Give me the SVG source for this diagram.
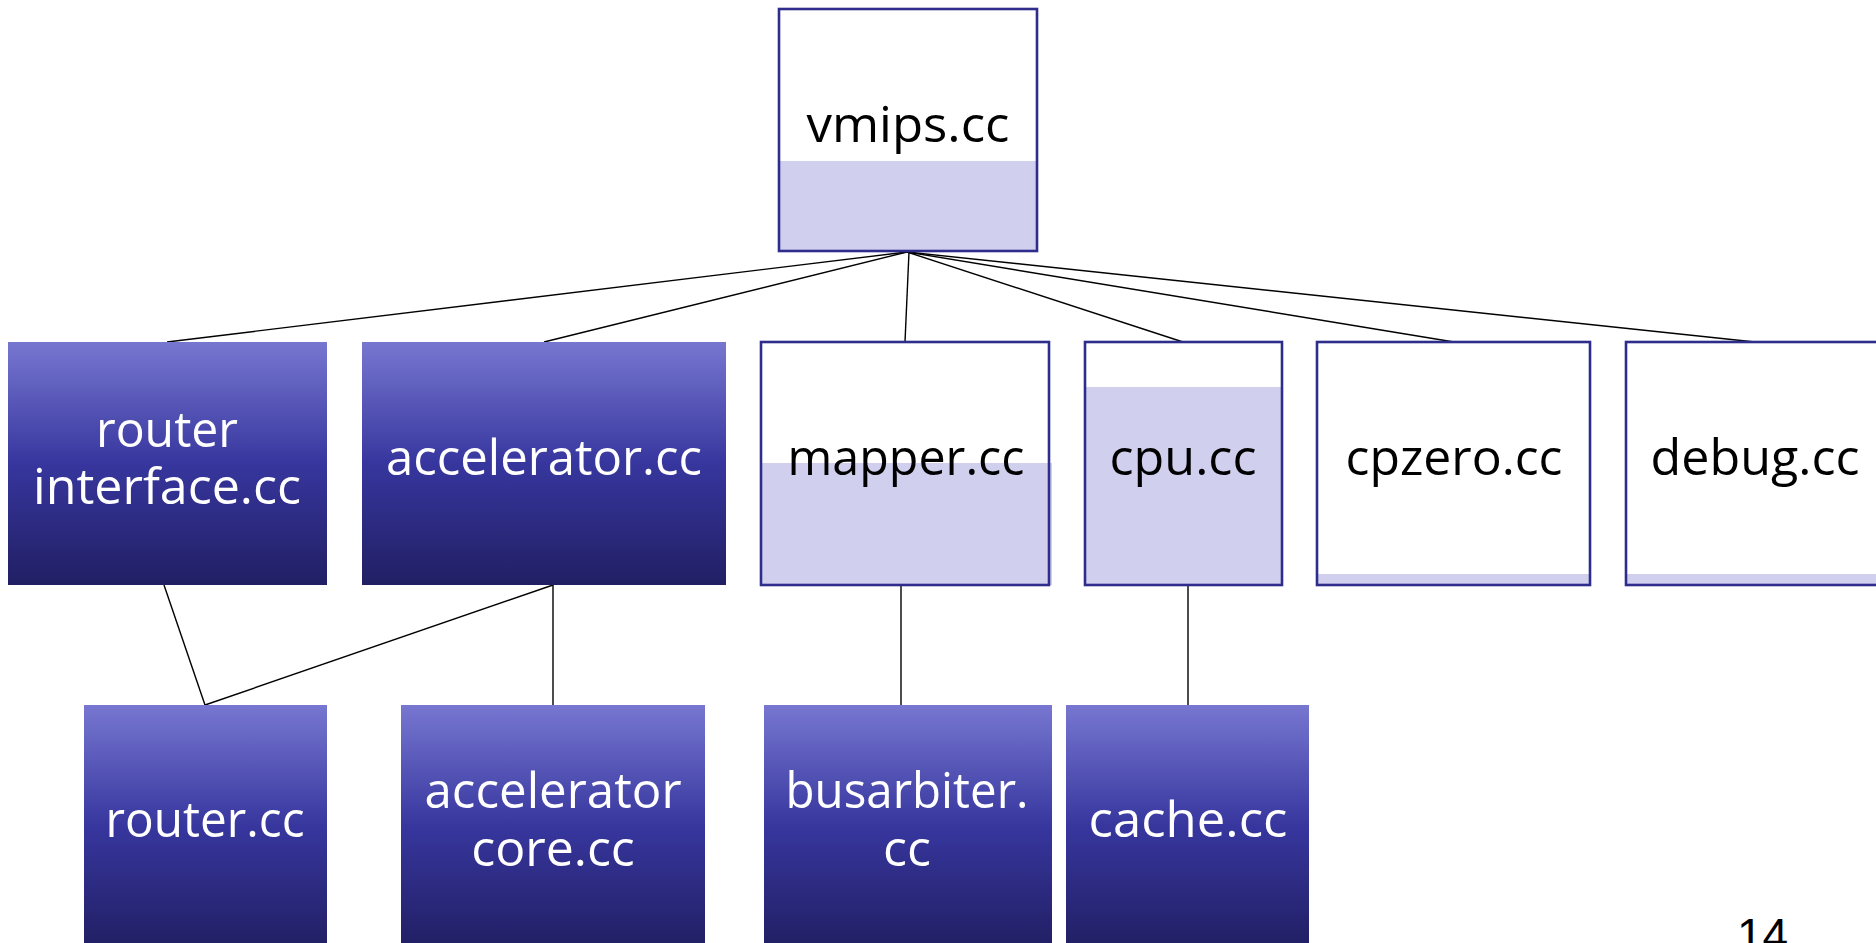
<svg xmlns="http://www.w3.org/2000/svg" width="1876" height="943" viewBox="0 0 1876 943">
  <defs>
    <linearGradient id="blueFill" x1="0" y1="0" x2="0" y2="1">
      <stop offset="0" stop-color="#7777d1"/>
      <stop offset="0.5" stop-color="#37369e"/>
      <stop offset="1" stop-color="#211f63"/>
    </linearGradient>
    <style>
      .solid { fill: url(#blueFill); }
      .frame { fill: none; stroke: #2e2d8c; stroke-width: 2.6; }
      .paper { fill: #ffffff; }
      .tint { fill: #d0d0ee; }
      .lbl { font-family: "Open Sans", "Noto Sans", "DejaVu Sans", sans-serif; font-size: 50px; text-anchor: middle; }
      .dark { fill: #000000; }
      .light { fill: #ffffff; }
      .wire { stroke: #000000; stroke-width: 1.4; fill: none; }
      .pageno { font-family: "Liberation Sans", Arial, sans-serif; font-size: 46px; fill: #000000; }
    </style>
  </defs>

  <rect width="1876" height="943" fill="#ffffff"/>

  <!-- connectors -->
  <g id="connectors">
    <line class="wire" x1="907" y1="252" x2="167" y2="342"/>
    <line class="wire" x1="907" y1="252" x2="544" y2="342"/>
    <line class="wire" x1="909" y1="252" x2="905" y2="342"/>
    <line class="wire" x1="907" y1="252" x2="1183" y2="342"/>
    <line class="wire" x1="907" y1="252" x2="1454" y2="342"/>
    <line class="wire" x1="907" y1="252" x2="1755" y2="342"/>
    <line class="wire" x1="164" y1="585" x2="205" y2="705"/>
    <line class="wire" x1="553" y1="585" x2="205" y2="705"/>
    <line class="wire" x1="553" y1="585" x2="553" y2="705"/>
    <line class="wire" x1="901" y1="585" x2="901" y2="705"/>
    <line class="wire" x1="1188" y1="585" x2="1188" y2="705"/>
  </g>

  <!-- top level -->
  <g id="node-vmips">
    <rect class="paper" x="779" y="9" width="258" height="242"/>
    <rect class="tint" x="780" y="161" width="256" height="90"/>
    <rect class="frame" x="779" y="9" width="258" height="242"/>
    <text class="lbl dark" x="908" y="142" textLength="203" lengthAdjust="spacingAndGlyphs">vmips.cc</text>
  </g>

  <!-- second level -->
  <g id="node-router-interface">
    <rect class="solid" x="8" y="342" width="319" height="243"/>
    <text class="lbl light" x="167" y="447" textLength="142" lengthAdjust="spacingAndGlyphs">router</text>
    <text class="lbl light" x="167" y="504" textLength="268" lengthAdjust="spacingAndGlyphs">interface.cc</text>
  </g>

  <g id="node-accelerator">
    <rect class="solid" x="362" y="342" width="364" height="243"/>
    <text class="lbl light" x="544" y="475" textLength="316" lengthAdjust="spacingAndGlyphs">accelerator.cc</text>
  </g>

  <g id="node-mapper">
    <rect class="paper" x="761" y="342" width="288" height="243"/>
    <rect class="tint" x="762" y="463" width="290" height="122"/>
    <rect class="frame" x="761" y="342" width="288" height="243"/>
    <text class="lbl dark" x="906" y="475" textLength="237" lengthAdjust="spacingAndGlyphs">mapper.cc</text>
  </g>

  <g id="node-cpu">
    <rect class="paper" x="1085" y="342" width="197" height="243"/>
    <rect class="tint" x="1086" y="387" width="195" height="198"/>
    <rect class="frame" x="1085" y="342" width="197" height="243"/>
    <text class="lbl dark" x="1183" y="475" textLength="147" lengthAdjust="spacingAndGlyphs">cpu.cc</text>
  </g>

  <g id="node-cpzero">
    <rect class="paper" x="1317" y="342" width="273" height="243"/>
    <rect class="tint" x="1318" y="574" width="271" height="11"/>
    <rect class="frame" x="1317" y="342" width="273" height="243"/>
    <text class="lbl dark" x="1454" y="475" textLength="217" lengthAdjust="spacingAndGlyphs">cpzero.cc</text>
  </g>

  <g id="node-debug">
    <rect class="paper" x="1626" y="342" width="258" height="243"/>
    <rect class="tint" x="1627" y="574" width="256" height="11"/>
    <rect class="frame" x="1626" y="342" width="258" height="243"/>
    <text class="lbl dark" x="1755" y="475" textLength="209" lengthAdjust="spacingAndGlyphs">debug.cc</text>
  </g>

  <!-- third level -->
  <g id="node-router">
    <rect class="solid" x="84" y="705" width="243" height="243"/>
    <text class="lbl light" x="205" y="837" textLength="199" lengthAdjust="spacingAndGlyphs">router.cc</text>
  </g>

  <g id="node-accelerator-core">
    <rect class="solid" x="401" y="705" width="304" height="243"/>
    <text class="lbl light" x="553" y="808" textLength="257" lengthAdjust="spacingAndGlyphs">accelerator</text>
    <text class="lbl light" x="553" y="866">core.cc</text>
  </g>

  <g id="node-busarbiter">
    <rect class="solid" x="764" y="705" width="288" height="243"/>
    <text class="lbl light" x="907" y="808" textLength="243" lengthAdjust="spacingAndGlyphs">busarbiter.</text>
    <text class="lbl light" x="907" y="866">cc</text>
  </g>

  <g id="node-cache">
    <rect class="solid" x="1066" y="705" width="243" height="243"/>
    <text class="lbl light" x="1188" y="837" textLength="199" lengthAdjust="spacingAndGlyphs">cache.cc</text>
  </g>

  <!-- page number -->
  <text class="pageno" x="1737" y="951">14</text>
</svg>
